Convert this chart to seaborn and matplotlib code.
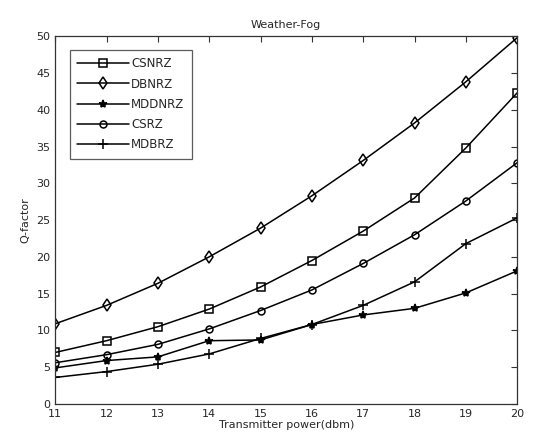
import matplotlib
matplotlib.use('Agg')
import matplotlib.pyplot as plt
import seaborn as sns
import pandas as pd

power = [11, 12, 13, 14, 15, 16, 17, 18, 19, 20]

csnrz  = [7.0, 8.6, 10.5, 12.9, 15.9, 19.5, 23.5, 28.0, 34.8, 42.3]
dbnrz  = [10.9, 13.4, 16.4, 20.0, 23.9, 28.3, 33.1, 38.2, 43.8, 49.8]
mddnrz = [4.9, 5.9, 6.4, 8.6, 8.7, 10.8, 12.1, 13.0, 15.1, 18.1]
csrz   = [5.6, 6.7, 8.1, 10.2, 12.7, 15.5, 19.1, 23.0, 27.6, 32.8]
mdbrz  = [3.6, 4.4, 5.4, 6.8, 8.9, 10.8, 13.4, 16.6, 21.8, 25.3]

series = [('CSNRZ', csnrz, 's', 6), ('DBNRZ', dbnrz, 'd', 6),
          ('MDDNRZ', mddnrz, '*', 6), ('CSRZ', csrz, 'o', 5),
          ('MDBRZ', mdbrz, '+', 7)]

sns.set_style('white')
plt.rcParams['font.family'] = ['DejaVu Sans']

fig = plt.figure(figsize=(5.52, 4.41), dpi=100)
ax = fig.add_axes([0.1, 0.084, 0.837, 0.834])

for name, vals, mk, ms in series:
    df = pd.DataFrame({'x': power, 'y': vals})
    sns.lineplot(data=df, x='x', y='y', ax=ax, color='black', linewidth=1.1,
                 marker=mk, markersize=ms,
                 markerfacecolor='none' if mk not in ('*', '+') else 'black',
                 markeredgecolor='black', markeredgewidth=1.1, label=name)

ax.set_xlim(11, 20)
ax.set_ylim(0, 50)
ax.set_xticks(power)
ax.set_yticks(range(0, 51, 5))
ax.tick_params(direction='in', length=4, labelsize=8, top=True, right=True,
               color='#333333', width=0.8)
for s in ax.spines.values():
    s.set_color('#333333')
    s.set_linewidth(0.9)
ax.set_title('Weather-Fog', fontsize=8)
ax.set_xlabel('Transmitter power(dbm)', fontsize=8, labelpad=1)
ax.set_ylabel('Q-factor', fontsize=8)

leg = ax.legend(loc='upper left', bbox_to_anchor=(0.032, 0.962), fontsize=8.5,
                frameon=True, fancybox=False, handlelength=4.4,
                borderpad=0.6, labelspacing=0.62, handletextpad=0.2,
                borderaxespad=0)
leg.get_frame().set_edgecolor('#333333')
leg.get_frame().set_linewidth(0.9)

fig.savefig('out.png', dpi=100)
